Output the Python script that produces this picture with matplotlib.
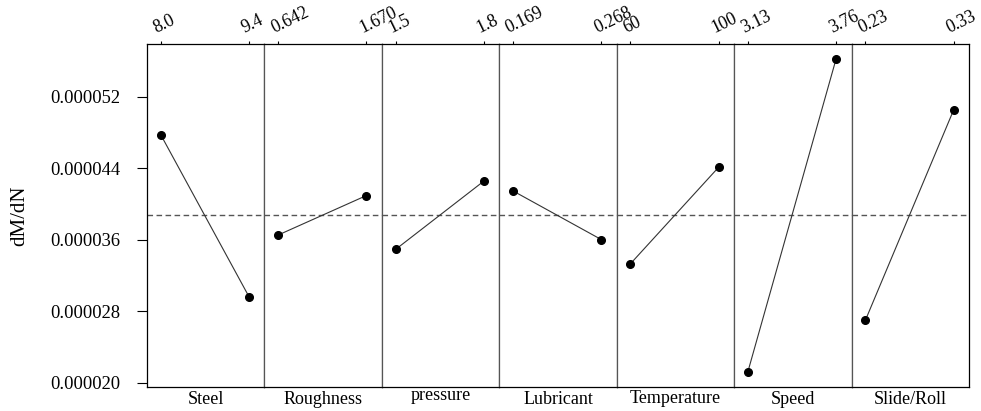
import matplotlib
matplotlib.use("Agg")
import matplotlib.pyplot as plt
import matplotlib.transforms as mtransforms
import numpy as np
from matplotlib.ticker import FixedLocator
from matplotlib.textpath import TextPath
from matplotlib.font_manager import FontProperties

plt.rcParams['font.family'] = ['Liberation Serif', 'DejaVu Serif']

# Factors, their low/high level labels and the mean response at each level
factors = ["Steel", "Roughness", "pressure", "Lubricant", "Temperature", "Speed", "Slide/Roll"]
low_levels = ["8.0", "0.642", "1.5", "0.169", "60", "3.13", "0.23"]
high_levels = ["9.4", "1.670", "1.8", "0.268", "100", "3.76", "0.33"]
low_means = [47.75e-6, 36.53e-6, 34.92e-6, 41.46e-6, 33.32e-6, 21.26e-6, 26.99e-6]
high_means = [29.66e-6, 40.94e-6, 42.55e-6, 36.03e-6, 44.11e-6, 56.21e-6, 50.48e-6]
y_ticks = [0.000020, 0.000028, 0.000036, 0.000044, 0.000052]

grand_mean = np.mean(low_means + high_means)
level_pos = [0.117, 0.868]

fig, axes = plt.subplots(1, len(factors), sharey=True, figsize=(9.81, 4.11), dpi=100)
fig.subplots_adjust(left=0.1498, right=0.9878, top=0.893, bottom=0.0584, wspace=0)

name_size = 13
name_prop = FontProperties(family="Liberation Serif", size=name_size)
level_shift = mtransforms.ScaledTranslation(-2.5 / 100, 0, fig.dpi_scale_trans)

divider = "#555555"
for i, ax in enumerate(axes):
    ax.plot(level_pos, [low_means[i], high_means[i]], color="#333333", lw=0.8,
            marker="o", ms=5.5, mfc="black", mec="black", zorder=3)
    ax.axhline(grand_mean, color="#555555", lw=1.0, ls=(0, (4, 2.5)), zorder=2)
    ax.set_xlim(0, 1)
    ax.set_ylim(19.55e-6, 57.88e-6)

    ax.xaxis.tick_top()
    ax.set_xticks(level_pos)
    ax.set_xticklabels([low_levels[i], high_levels[i]], rotation=26, ha="left",
                       rotation_mode="anchor", fontsize=12.8)
    ax.tick_params(axis="x", which="both", direction="out", length=2.5, width=0.8,
                   pad=2.5, bottom=False, labelbottom=False)
    for lab in ax.get_xticklabels():
        lab.set_transform(lab.get_transform() + level_shift)

    # factor name hung below the frame by the top of its glyphs
    ascent = TextPath((0, 0), factors[i], size=name_size, prop=name_prop).get_extents().y1
    offset = mtransforms.ScaledTranslation(0, -(3.1 + ascent) / 72, fig.dpi_scale_trans)
    ax.text(0.5, 0.0, factors[i], transform=ax.transAxes + offset, ha="center",
            va="baseline", fontsize=name_size)

    for side in ("top", "bottom"):
        ax.spines[side].set_color("black")
        ax.spines[side].set_linewidth(0.9)
    ax.spines["left"].set_color("black" if i == 0 else divider)
    ax.spines["right"].set_color("black" if i == len(factors) - 1 else divider)
    ax.spines["left"].set_linewidth(0.9)
    ax.spines["right"].set_linewidth(0.9)

    if i == 0:
        ax.yaxis.set_major_locator(FixedLocator(y_ticks))
        ax.set_yticklabels([f"{v:.6f}" for v in y_ticks], fontsize=13.3)
        ax.tick_params(axis="y", direction="out", length=7.2, width=0.8, pad=12)
    else:
        ax.tick_params(axis="y", left=False, labelleft=False)

fig.text(20 / 981, 0.4757, "dM/dN", rotation=90, ha="center", va="center", fontsize=15)

fig.savefig("out.png", dpi=100)
